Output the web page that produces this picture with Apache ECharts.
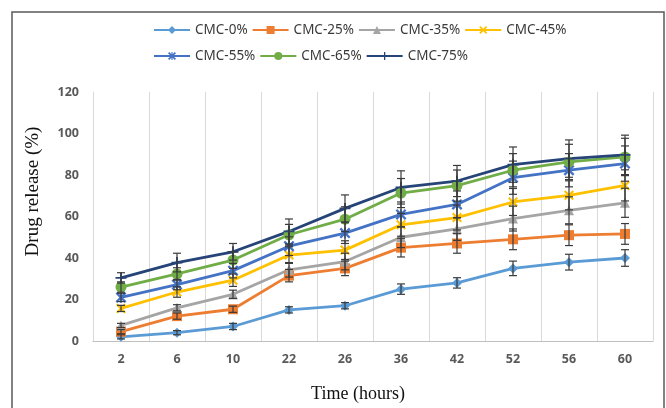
<!DOCTYPE html>
<html>
<head>
<meta charset="utf-8">
<script src="https://cdn.jsdelivr.net/npm/echarts@6/dist/echarts.min.js"></script>
<style>html,body{margin:0;padding:0;background:#fff}#c{width:666px;height:408px}</style>
</head>
<body>
<div id="c"></div>
<script>
const categories = ['2','6','10','22','26','36','42','52','56','60'];
const seriesNames = ['CMC-0%','CMC-25%','CMC-35%','CMC-45%','CMC-55%','CMC-65%','CMC-75%'];
const cmc0  = [2, 4, 7, 15, 17, 25, 28, 35, 38, 40];
const cmc25 = [4.5, 12, 15.3, 31.5, 35, 45, 47, 49, 51, 51.6];
const cmc35 = [7.5, 16, 22.5, 34.3, 38.3, 50, 54, 59, 63, 66.6];
const cmc45 = [15.7, 23.6, 29.3, 41.4, 43.8, 56, 59.5, 67, 70.2, 75];
const cmc55 = [21, 27.2, 33.9, 45.7, 52, 61, 65.8, 78.7, 82.3, 85.5];
const cmc65 = [26, 32.3, 39, 51.2, 58.7, 71.3, 74.9, 82.3, 86.3, 88.7];
const cmc75 = [30.4, 37.8, 43, 52.8, 63.9, 74, 77.1, 85, 87.9, 89.7];
const err0  = [1, 1, 1.5, 1.5, 1.5, 2.5, 2.5, 3.5, 3.8, 4];
const err25 = [1, 1.5, 1.5, 3, 3.5, 4.5, 4.7, 5, 5, 5];
const err35 = [1, 1.5, 2, 3.5, 4, 5, 5.5, 6, 6.5, 7];
const err45 = [1.5, 2.5, 3, 4, 4.5, 5.5, 6, 6.5, 7, 7.5];
const err55 = [2, 2.5, 3.5, 4.5, 5, 6, 6.5, 8, 8, 8.5];
const err65 = [2.5, 3, 4, 5, 6, 7, 7.5, 8, 8.5, 9];
const err75 = [2.5, 4.5, 4, 6, 6.5, 8, 7.5, 8.5, 9, 9.5];

const values = [cmc0, cmc25, cmc35, cmc45, cmc55, cmc65, cmc75];
const errors = [err0, err25, err35, err45, err55, err65, err75];
const colors = ['#5B9BD5','#ED7D31','#A5A5A5','#FFC000','#4472C4','#70AD47','#264478'];
const X = 'path://M0,1.5 L1.5,0 L5,3.5 L8.5,0 L10,1.5 L6.5,5 L10,8.5 L8.5,10 L5,6.5 L1.5,10 L0,8.5 L3.5,5 Z';
const STAR = 'path://M0,1.5 L1.5,0 L4.3,2.8 L4.3,0 L5.7,0 L5.7,2.8 L8.5,0 L10,1.5 L6.5,5 L10,8.5 L8.5,10 L5.7,7.2 L5.7,10 L4.3,10 L4.3,7.2 L1.5,10 L0,8.5 L3.5,5 Z';
const PLUS = 'path://M4.2,0 L5.8,0 L5.8,4.2 L10,4.2 L10,5.8 L5.8,5.8 L5.8,10 L4.2,10 L4.2,5.8 L0,5.8 L0,4.2 L4.2,4.2 Z';
const symbols = ['diamond','rect','triangle', X, STAR, 'circle', PLUS];
const symSizes = [10, 10, 10, 10, 11, 11, 11];

const series = [];
values.forEach((vals, k) => {
  series.push({
    name: seriesNames[k], type: 'line', data: vals,
    symbol: symbols[k], symbolSize: symSizes[k],
    lineStyle: {color: colors[k], width: 2.8},
    itemStyle: {color: colors[k]},
    z: 2
  });
});
values.forEach((vals, k) => {
  series.push({
    type: 'custom', name: 'err' + k, z: 3, silent: true,
    data: vals.map((v, i) => [i, v, errors[k][i]]),
    renderItem: function (params, api) {
      const i = api.value(0), v = api.value(1), e = api.value(2);
      const t = api.coord([i, v + e]);
      const b = api.coord([i, v - e]);
      const w = 4;
      const st = {stroke: '#3a3a3a', lineWidth: 1.2};
      return {type: 'group', children: [
        {type: 'line', shape: {x1: t[0], y1: t[1], x2: b[0], y2: b[1]}, style: st},
        {type: 'line', shape: {x1: t[0]-w, y1: t[1], x2: t[0]+w, y2: t[1]}, style: st},
        {type: 'line', shape: {x1: b[0]-w, y1: b[1], x2: b[0]+w, y2: b[1]}, style: st}
      ]};
    }
  });
});

const legendText = {fontFamily: 'Noto Sans', fontSize: 13.5, color: '#3a3a3a'};
const chart = echarts.init(document.getElementById('c'), null, {renderer: 'canvas'});
chart.setOption({
  animation: false,
  color: colors,
  graphic: [{type: 'rect', shape: {x: 12, y: 12, width: 652, height: 420},
    style: {fill: 'none', stroke: '#5a5a5a', lineWidth: 1.5}, z: -1}],
  legend: [
    {data: seriesNames.slice(0, 4), left: 153, top: 23, itemWidth: 36, itemHeight: 10, itemGap: 4, textStyle: legendText, padding: 0},
    {data: seriesNames.slice(4), left: 153, top: 49, itemWidth: 36, itemHeight: 10, itemGap: 4, textStyle: legendText, padding: 0}
  ],
  grid: {left: 93, right: 13, top: 92, bottom: 63},
  xAxis: {
    type: 'category', data: categories, boundaryGap: true,
    name: 'Time (hours)', nameLocation: 'middle', nameGap: 44,
    nameTextStyle: {fontFamily: 'Liberation Serif', fontSize: 18, color: '#111', padding: [0, 30, 0, 0]},
    axisLine: {lineStyle: {color: '#bfbfbf', width: 1}},
    axisTick: {show: false},
    axisLabel: {fontFamily: 'Noto Sans', fontSize: 12.5, fontWeight: 'bold', color: '#595959', margin: 12},
    splitLine: {show: true, lineStyle: {color: '#d9d9d9', width: 1}}
  },
  yAxis: {
    type: 'value', min: 0, max: 120, interval: 20,
    name: 'Drug release (%)', nameLocation: 'middle', nameGap: 50, nameRotate: 90,
    nameTextStyle: {fontFamily: 'Liberation Serif', fontSize: 19, color: '#111', padding: [0, 0, 0, 50]},
    axisLine: {show: true, lineStyle: {color: '#d9d9d9', width: 1}},
    axisTick: {show: false},
    axisLabel: {fontFamily: 'Noto Sans', fontSize: 12.5, fontWeight: 'bold', color: '#595959', margin: 14},
    splitLine: {show: false}
  },
  series: series
});
</script>
</body>
</html>
